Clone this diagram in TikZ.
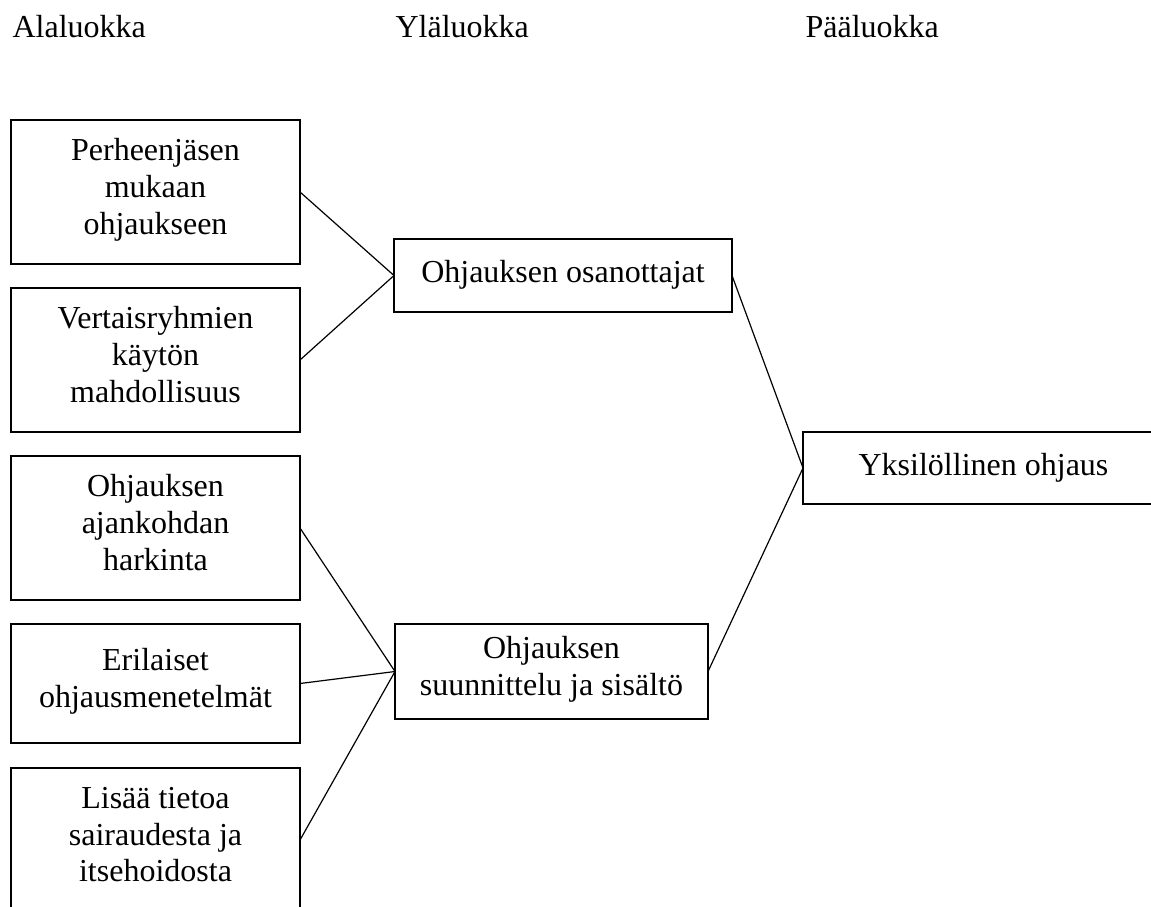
\documentclass[tikz,border=0pt]{standalone}
\usepackage{fontspec}
\setmainfont{Liberation Serif}

\begin{document}
\begin{tikzpicture}[x=0.5pt, y=-0.5pt, line width=0.6pt,
    every node/.style={font=\fontsize{16}{18.35}\selectfont},
    otsikko/.style={anchor=base west, inner sep=0pt},
    box/.style={draw, align=center, inner sep=0pt, outer sep=0pt,
        minimum width=144.5pt, minimum height=72pt,
        execute at begin node=\strut, execute at end node=\strut}]
    \useasboundingbox (0,0) rectangle (1151,906);
    \clip (0,0) rectangle (1151,906);
    % otsikot
    \node[otsikko] (ala) at (12,37) {Alaluokka};
    \node[otsikko] (yla) at (395,37) {Yläluokka};
    \node[otsikko] (paa) at (805,37) {Pääluokka};
    % alaluokat
    \node[box] (perhe) at (155.5,192) {Perheenjäsen\\mukaan\\ohjaukseen};
    \node[box] (vertais) at (155.5,360) {Vertaisryhmien\\käytön\\mahdollisuus};
    \node[box] (ajankohta) at (155.5,528) {Ohjauksen\\ajankohdan\\harkinta};
    \node[box, minimum height=59.5pt] (menetelmat) at (155.5,683.5) {Erilaiset\\ohjausmenetelmät};
    \node[box] (tieto) at (155.5,840) {Lisää tietoa\\sairaudesta ja\\itsehoidosta};
    % yläluokat
    \node[box, minimum width=169pt, minimum height=36.5pt] (osan) at (563,275.5) {Ohjauksen osanottajat};
    \node[box, minimum width=156.5pt, minimum height=47.5pt] (suun) at (551.5,671.5) {Ohjauksen\\suunnittelu ja sisältö};
    % pääluokka
    \node[box, minimum width=180.5pt, minimum height=36pt] (yks) at (983.5,468) {Yksilöllinen ohjaus};
    % yhteydet
    \draw (perhe.east) -- (osan.west);
    \draw (vertais.east) -- (osan.west);
    \foreach \n in {ajankohta, menetelmat, tieto}
        \draw (\n.east) -- (suun.west);
    \draw (osan.east) -- (yks.west) -- (suun.east);
\end{tikzpicture}
\end{document}
